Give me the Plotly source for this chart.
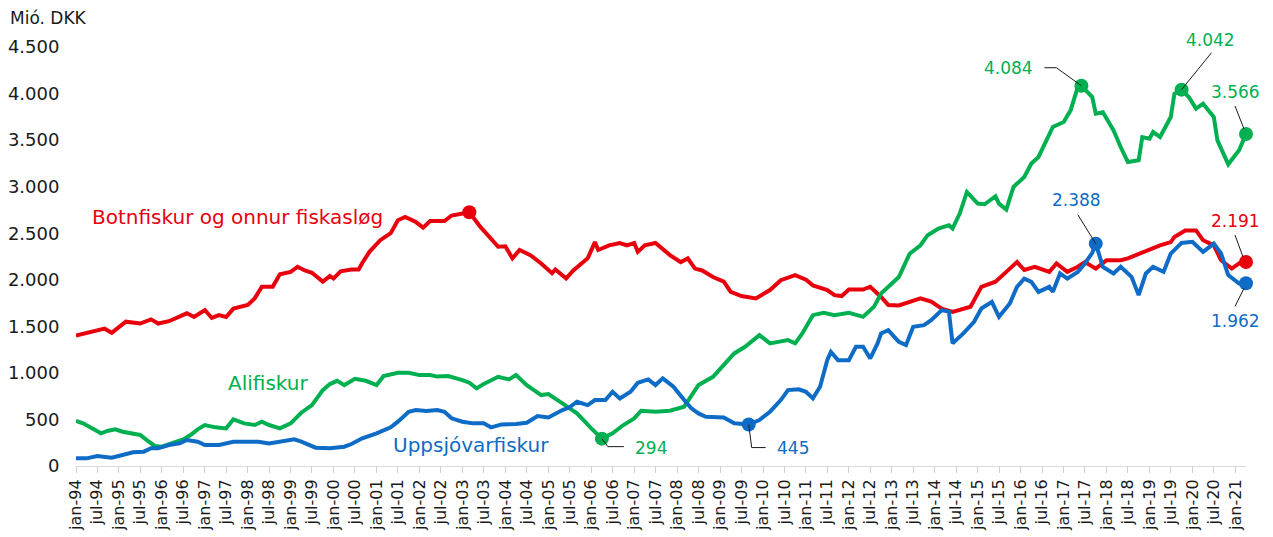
import pandas as pd
import plotly.graph_objects as go

# monthly axis: jan-94 .. apr-21
months = pd.date_range("1994-01-01", "2021-04-01", freq="MS")

tick_labels = [
    "jan-94", "jul-94", "jan-95", "jul-95", "jan-96", "jul-96", "jan-97", "jul-97",
    "jan-98", "jul-98", "jan-99", "jul-99", "jan-00", "jul-00", "jan-01", "jul-01",
    "jan-02", "jul-02", "jan-03", "jul-03", "jan-04", "jul-04", "jan-05", "jul-05",
    "jan-06", "jul-06", "jan-07", "jul-07", "jan-08", "jul-08", "jan-09", "jul-09",
    "jan-10", "jul-10", "jan-11", "jul-11", "jan-12", "jul-12", "jan-13", "jul-13",
    "jan-14", "jul-14", "jan-15", "jul-15", "jan-16", "jul-16", "jan-17", "jul-17",
    "jan-18", "jul-18", "jan-19", "jul-19", "jan-20", "jul-20", "jan-21",
]

# month index (0 = jan-94) and value, Mió. DKK
red_idx = [0, 5, 8, 10, 14, 18, 21, 23, 26, 31, 33, 36, 38, 40, 42, 44, 48, 50, 52, 55,
           57, 60, 62, 64, 66, 69, 71, 72, 74, 77, 79, 80, 82, 85, 88, 90, 92, 95, 97, 99,
           103, 105, 108, 110, 113, 116, 118, 120, 122, 124, 127, 130, 133, 134, 137, 139,
           143, 145, 146, 149, 152, 154, 156, 157, 159, 162, 164, 166, 169, 171, 173, 175,
           178, 181, 183, 186, 190, 194, 197, 201, 204, 206, 210, 212, 214, 216, 220, 222,
           225, 227, 230, 233, 236, 239, 242, 245, 250, 253, 257, 260, 263, 265, 268, 272,
           274, 277, 280, 282, 285, 288, 292, 294, 297, 300, 303, 306, 307, 310, 313, 315,
           318, 320, 323, 325, 327]
red_val = [1400, 1440, 1475, 1430, 1550, 1530, 1575, 1530, 1555, 1640, 1600, 1675, 1590,
           1620, 1600, 1690, 1730, 1800, 1925, 1925, 2060, 2085, 2140, 2100, 2075, 1980,
           2040, 2015, 2090, 2110, 2110, 2180, 2300, 2425, 2500, 2640, 2675, 2620, 2560,
           2630, 2630, 2690, 2715, 2725, 2570, 2440, 2355, 2360, 2230, 2320, 2265, 2175,
           2070, 2110, 2015, 2100, 2230, 2405, 2320, 2370, 2395, 2370, 2395, 2300, 2370,
           2395, 2335, 2265, 2190, 2230, 2120, 2100, 2030, 1980, 1870, 1825, 1800, 1890,
           1995, 2050, 2000, 1940, 1890, 1835, 1825, 1895, 1895, 1925, 1815, 1730, 1725,
           1760, 1800, 1765, 1690, 1655, 1710, 1925, 1980, 2085, 2190, 2105, 2140, 2085,
           2175, 2085, 2140, 2190, 2120, 2210, 2210, 2230, 2280, 2320, 2370, 2405, 2460,
           2530, 2530, 2425, 2370, 2210, 2120, 2175, 2191]

green_idx = [0, 2, 5, 7, 9, 11, 13, 16, 18, 20, 22, 24, 27, 30, 32, 34, 36, 39, 42, 44,
             47, 50, 52, 54, 57, 60, 63, 66, 69, 71, 73, 75, 78, 81, 84, 86, 90, 93, 96, 99,
             101, 104, 108, 110, 112, 114, 118, 121, 123, 126, 130, 132, 136, 140, 144, 147,
             150, 153, 156, 158, 162, 166, 170, 172, 174, 178, 181, 184, 187, 191, 194, 197,
             199, 201, 203, 206, 209, 212, 216, 220, 223, 225, 228, 230, 233, 236, 238, 241,
             244, 245, 247, 249, 252, 254, 257, 258, 260, 262, 265, 267, 269, 271, 273, 276,
             278, 280, 281, 284, 285, 287, 290, 292, 294, 297, 298, 300, 301, 303, 306, 307,
             309, 311, 313, 315, 318, 319, 322, 325, 327]
green_val = [486, 458, 394, 351, 379, 394, 368, 351, 333, 272, 215, 207, 243, 286, 333, 394,
             440, 415, 404, 501, 458, 440, 476, 440, 404, 458, 572, 654, 815, 880, 915, 869,
             937, 915, 869, 966, 1001, 1001, 976, 976, 960, 966, 923, 894, 834, 880, 958, 930,
             976, 869, 762, 772, 673, 565, 404, 294, 351, 440, 512, 594, 583, 594, 637, 762,
             870, 958, 1084, 1209, 1280, 1406, 1317, 1334, 1352, 1317, 1424, 1620, 1645, 1620,
             1645, 1602, 1709, 1853, 1960, 2030, 2280, 2371, 2479, 2550, 2586, 2550, 2711,
             2943, 2818, 2811, 2897, 2818, 2754, 2997, 3104, 3248, 3319, 3480, 3641, 3694,
             3820, 4070, 4084, 3963, 3784, 3800, 3605, 3426, 3265, 3283, 3533, 3516, 3587,
             3533, 3748, 3999, 4042, 3963, 3838, 3891, 3748, 3498, 3240, 3391, 3566]

blue_idx = [0, 3, 6, 10, 13, 16, 19, 21, 23, 26, 29, 31, 34, 36, 40, 44, 48, 51, 54, 58,
            61, 63, 67, 71, 75, 77, 80, 84, 88, 90, 93, 95, 98, 101, 103, 105, 108, 111, 114,
            116, 119, 123, 126, 129, 132, 136, 138, 140, 143, 145, 148, 150, 152, 155, 157,
            160, 162, 164, 167, 170, 172, 174, 176, 181, 184, 188, 191, 194, 197, 199, 202,
            204, 206, 208, 210, 211, 213, 216, 218, 220, 222, 224, 225, 227, 230, 232, 234,
            237, 239, 242, 244, 245, 248, 251, 253, 256, 258, 261, 263, 265, 267, 269, 272,
            273, 275, 277, 280, 282, 284, 285, 287, 290, 292, 295, 297, 299, 301, 304, 306,
            309, 312, 315, 318, 320, 322, 325, 327]
blue_val = [82, 82, 107, 89, 118, 147, 154, 190, 190, 225, 243, 279, 261, 225, 225, 261, 261,
            261, 243, 272, 286, 261, 197, 190, 207, 236, 297, 351, 415, 476, 583, 601, 590,
            601, 583, 512, 476, 458, 458, 415, 447, 451, 465, 537, 522, 601, 630, 690, 654,
            708, 708, 797, 726, 797, 894, 930, 869, 941, 851, 708, 620, 565, 529, 522, 458,
            445, 494, 583, 708, 815, 823, 797, 726, 851, 1137, 1226, 1137, 1137, 1280, 1280,
            1155, 1317, 1424, 1459, 1334, 1298, 1495, 1513, 1567, 1674, 1656, 1317, 1424,
            1549, 1692, 1763, 1602, 1745, 1924, 2013, 1978, 1870, 1924, 1870, 2068, 2013,
            2085, 2175, 2289, 2388, 2139, 2068, 2139, 2031, 1835, 2068, 2139, 2085, 2282,
            2396, 2407, 2299, 2389, 2282, 2050, 1960, 1962]

assert len(red_idx) == len(red_val)
assert len(green_idx) == len(green_val)
assert len(blue_idx) == len(blue_val)

RED, GREEN, BLUE = "#E8000D", "#00B050", "#0E6BC6"
FONT = "Verdana, DejaVu Sans, sans-serif"

series = [
    ("Botnfiskur og onnur fiskasløg", red_idx, red_val, RED),
    ("Alifiskur", green_idx, green_val, GREEN),
    ("Uppsjóvarfiskur", blue_idx, blue_val, BLUE),
]

fig = go.Figure()
for name, idx, val, col in series:
    fig.add_trace(go.Scatter(
        x=months[idx], y=val, mode="lines", name=name,
        line=dict(color=col, width=4), cliponaxis=False,
    ))

# highlighted points: (series values, month idx, show label, label anchor, dx, dy, leader path)
# dx/dy in screen pixels from the point, leader path points in screen pixels
callouts = [
    (red_idx, red_val, RED, 110, False, None, 0, 0, []),
    (green_idx, green_val, GREEN, 147, True, "left", 31, 9, [(0, 0), (6, 8), (22, 8)]),
    (blue_idx, blue_val, BLUE, 188, True, "left", 26, 23, [(0, 0), (3, 23), (17, 23)]),
    (green_idx, green_val, GREEN, 281, True, "right", -46, -18, [(0, 0), (-25, -18), (-37, -18)]),
    (blue_idx, blue_val, BLUE, 285, True, "center", -19, -44, [(0, 0), (-18, -29)]),
    (green_idx, green_val, GREEN, 309, True, "center", 29, -50, [(0, 0), (30, -37)]),
    (green_idx, green_val, GREEN, 327, True, "center", -11, -42, [(-2, -5), (-11, -28)]),
    (red_idx, red_val, RED, 327, True, "center", -11, -41, [(-3, -5), (-11, -27)]),
    (blue_idx, blue_val, BLUE, 327, True, "center", -11, 38, [(-2, 5), (-11, 23)]),
]

for idx, val, col, m, show, anchor, dx, dy, path in callouts:
    v = val[idx.index(m)]
    xd = months[m]
    fig.add_trace(go.Scatter(
        x=[xd], y=[v], mode="markers", showlegend=False, cliponaxis=False,
        marker=dict(color=col, size=14),
    ))
    if not show:
        continue
    if path:
        d = "M " + " L ".join(f"{px},{-py}" for px, py in path)
        fig.add_shape(
            type="path", path=d, xref="x", yref="y",
            xsizemode="pixel", ysizemode="pixel",
            xanchor=xd, yanchor=v,
            line=dict(color="#1a1a1a", width=1), layer="above",
        )
    fig.add_annotation(
        x=xd, y=v, text=f"{v:,}".replace(",", "."), showarrow=False,
        xanchor=anchor, yanchor="middle", xshift=dx, yshift=-dy,
        font=dict(family=FONT, size=17, color=col),
    )

# series names
fig.add_annotation(x=months[4], y=2675, text="Botnfiskur og onnur fiskasløg", showarrow=False,
                   xanchor="left", yanchor="middle", font=dict(family=FONT, size=20, color=RED))
fig.add_annotation(x=months[42], y=890, text="Alifiskur", showarrow=False,
                   xanchor="left", yanchor="middle", font=dict(family=FONT, size=20, color=GREEN))
fig.add_annotation(x=months[88], y=225, text="Uppsjóvarfiskur", showarrow=False,
                   xanchor="left", yanchor="middle", font=dict(family=FONT, size=20, color=BLUE))

fig.add_annotation(x=0, y=1, xref="paper", yref="paper", xanchor="left", yanchor="middle",
                   xshift=-68, yshift=29, text="Mió. DKK", showarrow=False,
                   font=dict(family=FONT, size=17, color="#1a1a1a"))

# the page body adds an 8px offset, so the figure is drawn 8px smaller
fig.update_layout(
    width=1265, height=529,
    margin=dict(l=68, r=27, t=39, b=71),
    paper_bgcolor="white", plot_bgcolor="white",
    showlegend=False,
    separators=",.",
    font=dict(family=FONT, size=16, color="#1a1a1a"),
    xaxis=dict(
        type="date", range=[months[0], months[-1]], automargin=False,
        tickmode="array", tickvals=months[::6][:len(tick_labels)], ticktext=tick_labels,
        tickangle=-90, ticks="outside", ticklen=6, tickcolor="#d0d0d0",
        showline=True, linecolor="#d9d9d9", linewidth=1,
        showgrid=False, zeroline=False,
        tickfont=dict(family=FONT, size=16, color="#1a1a1a"),
    ),
    yaxis=dict(
        range=[0, 4500], tickmode="linear", tick0=0, dtick=500, tickformat=",d",
        automargin=False,
        ticks="outside", ticklen=12, tickcolor="rgba(0,0,0,0)",
        showline=False, showgrid=False, zeroline=False,
        tickfont=dict(family=FONT, size=18, color="#1a1a1a"),
    ),
)

fig.write_html("out.html")
